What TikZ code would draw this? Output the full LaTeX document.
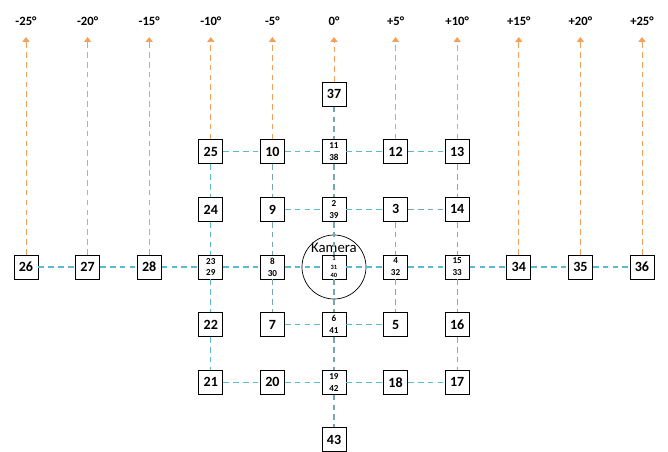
\documentclass[tikz,border=0pt]{standalone}
\usepackage{fontspec}
\setmainfont{Carlito}
\usetikzlibrary{arrows.meta}

\definecolor{gridblue}{RGB}{92,186,208}
\definecolor{griddark}{RGB}{118,165,182}
\definecolor{rayorange}{RGB}{245,160,90}

\tikzset{
	cell/.style={draw,line width=0.7pt,fill=white,minimum size=0.6cm,inner sep=0.5pt,align=center,font=\bfseries\normalsize},
	twocell/.style={cell,font=\bfseries\fontsize{6.5}{8.5}\selectfont},
	threecell/.style={cell,font=\bfseries\fontsize{4.6}{6}\selectfont},
	link/.style={gridblue,dash pattern=on 4pt off 3pt,line width=0.8pt},
	darklink/.style={link,griddark},
	ray/.style={rayorange,dash pattern=on 4pt off 3pt,line width=0.7pt,-{Triangle[width=5pt,length=3.5pt]}},
	anglelabel/.style={font=\bfseries\small}
}

\begin{document}
\begin{tikzpicture}
	\newcommand\colw{1.54}
	\newcommand\rowh{1.44}
	\useasboundingbox (-8.35,-4.6) rectangle (8.35,6.675);
	% camera
	\node[draw,circle,minimum size=1.6cm,inner sep=0pt,line width=0.5pt] (kam) at (0,0) {};
	\node[font=\fontsize{10.5}{12}\selectfont,inner sep=0pt] (kamtext) at (0,0.47) {Kamera};
	% row +3 and -3
	\node[cell] (n37) at (0,3*\rowh) {37};
	\node[cell] (n43) at (0,-3*\rowh) {43};
	% row +2
	\node[cell] (n25) at (-2*\colw,2*\rowh) {25};
	\node[cell] (n10) at (-1*\colw,2*\rowh) {10};
	\node[twocell] (n11) at (0,2*\rowh) {11\\38};
	\node[cell] (n12) at (1*\colw,2*\rowh) {12};
	\node[cell] (n13) at (2*\colw,2*\rowh) {13};
	% row +1
	\node[cell] (n24) at (-2*\colw,\rowh) {24};
	\node[cell] (n9) at (-1*\colw,\rowh) {9};
	\node[twocell] (n2) at (0,\rowh) {2\\39};
	\node[cell] (n3) at (1*\colw,\rowh) {3};
	\node[cell] (n14) at (2*\colw,\rowh) {14};
	% row 0
	\foreach \c/\t in {-5/26,-4/27,-3/28,3/34,4/35,5/36} {
		\node[cell] (n\t) at (\c*\colw,0) {\t};
	}
	\node[twocell] (n23) at (-2*\colw,0) {23\\29};
	\node[twocell] (n8) at (-1*\colw,0) {8\\30};
	\node[threecell] (n1) at (0,0) {1\\31\\40};
	\node[twocell] (n4) at (1*\colw,0) {4\\32};
	\node[twocell] (n15) at (2*\colw,0) {15\\33};
	% row -1
	\node[cell] (n22) at (-2*\colw,-\rowh) {22};
	\node[cell] (n7) at (-1*\colw,-\rowh) {7};
	\node[twocell] (n6) at (0,-\rowh) {6\\41};
	\node[cell] (n5) at (1*\colw,-\rowh) {5};
	\node[cell] (n16) at (2*\colw,-\rowh) {16};
	% row -2
	\node[cell] (n21) at (-2*\colw,-2*\rowh) {21};
	\node[cell] (n20) at (-1*\colw,-2*\rowh) {20};
	\node[twocell] (n19) at (0,-2*\rowh) {19\\42};
	\node[cell] (n18) at (1*\colw,-2*\rowh) {18};
	\node[cell] (n17) at (2*\colw,-2*\rowh) {17};
	% horizontal links
	\draw[link] (n25) -- (n10) -- (n11) -- (n12) -- (n13);
	\draw[link] (n9) -- (n2) -- (n3);
	\draw[darklink] (n3) -- (n14);
	\draw[link] (n26) -- (n27) -- (n28) -- (n23) -- (n8) -- (n1) -- (n4) -- (n15) -- (n34) -- (n35) -- (n36);
	\draw[link] (n7) -- (n6) -- (n5);
	\draw[link] (n21) -- (n20) -- (n19) -- (n18) -- (n17);
	% vertical links
	\draw[link] (n25) -- (n24) -- (n23) -- (n22) -- (n21);
	\draw[darklink] (n10) -- (n9) -- (n8) -- (n7);
	\draw[darklink] (n37) -- (n11) -- (n2) -- (n1) -- (n6) -- (n19) -- (n43);
	\draw[link] (n3) -- (n4) -- (n5);
	\draw[link] (n13) -- (n14) -- (n15) -- (n16) -- (n17);
	% angle rays
	\foreach \c/\deg/\src in {-5/-25°/n26,-4/-20°/n27,-3/-15°/n28,-2/-10°/n25,-1/-5°/n10,0/0°/n37,1/+5°/n12,2/+10°/n13,3/+15°/n34,4/+20°/n35,5/+25°/n36} {
		\coordinate (tip\c) at (\c*\colw,5.75);
		\draw[ray] (\src.north) -- (tip\c);
		\node[anglelabel] (deg\c) at (\c*\colw,6.15) {\deg};
	}
\end{tikzpicture}
\end{document}
